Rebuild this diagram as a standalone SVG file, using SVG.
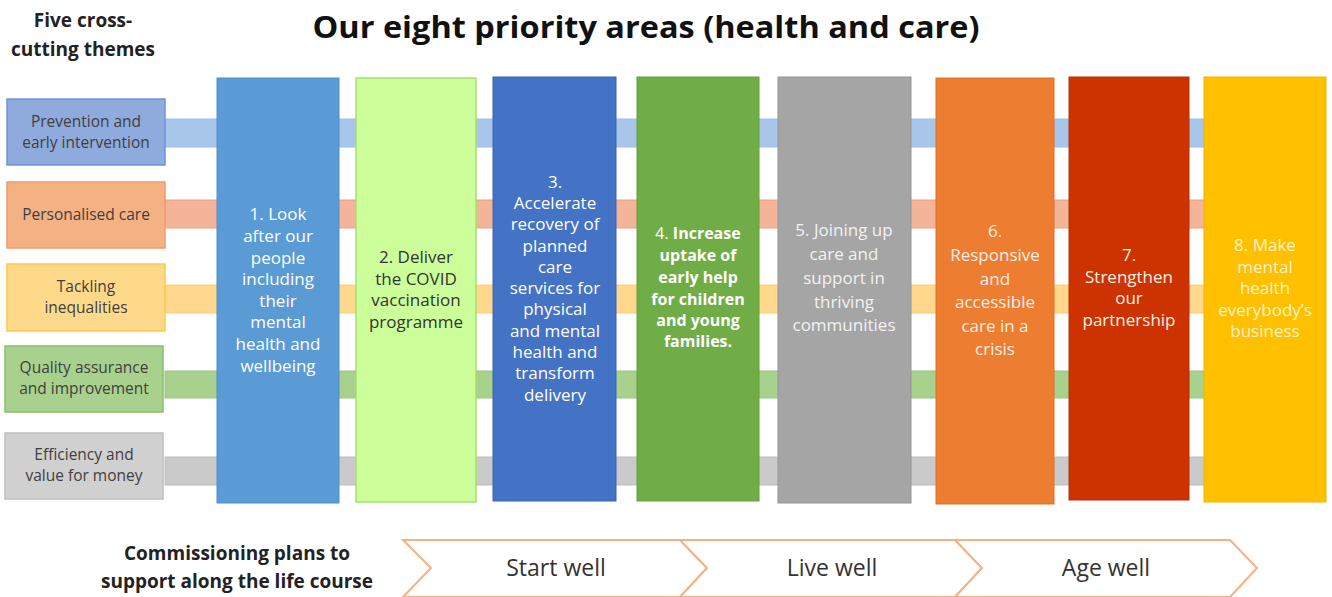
<svg xmlns="http://www.w3.org/2000/svg" width="1332" height="597" viewBox="0 0 1332 597">
<style>
text{font-family:"Open Sans",Lato,"Liberation Sans",sans-serif;text-anchor:middle}
.h{font-weight:bold;font-size:19px;fill:#222}
.title{font-weight:bold;font-size:31px;fill:#111}
.th{font-size:15.5px;fill:#404040}
.col{font-size:17px;fill:#fff}
.life{font-size:23px;fill:#333}
.band{stroke-width:1}
.chev{fill:#fff;stroke:#F4B183;stroke-width:2}
</style>
<rect width="1332" height="597" fill="#fff"/>
<text class="h" x="83" y="27">Five cross-</text>
<text class="h" x="83" y="56">cutting themes</text>
<text class="title" x="646" y="38" textLength="667" lengthAdjust="spacingAndGlyphs">Our eight priority areas (health and care)</text>
<g id="connectors">
<rect class="band" x="165" y="119" width="1040" height="28" fill="#A8C6E9" stroke="#9DBFE6"/>
<rect class="band" x="165" y="200" width="1040" height="28" fill="#F4B49A" stroke="#F0A080"/>
<rect class="band" x="165" y="285" width="1040" height="28" fill="#FFD88E" stroke="#FFCC70"/>
<rect class="band" x="165" y="371" width="1040" height="27" fill="#A9D18E" stroke="#98C67C"/>
<rect class="band" x="165" y="457" width="1040" height="28" fill="#CACACA" stroke="#BDBDBD"/>
</g>
<g id="theme1"><rect x="7" y="99" width="158" height="66" fill="#8FAADC" stroke="#6F94DA" stroke-width="1.5"/><text class="th" x="86" y="127">Prevention and</text><text class="th" x="86" y="148">early intervention</text></g>
<g id="theme2"><rect x="7" y="182" width="158" height="66" fill="#F4B183" stroke="#F59A6E" stroke-width="1.5"/><text class="th" x="86" y="220">Personalised care</text></g>
<g id="theme3"><rect x="7" y="264" width="158" height="67" fill="#FFD98A" stroke="#FFC84A" stroke-width="1.5"/><text class="th" x="86" y="292">Tackling</text><text class="th" x="86" y="313">inequalities</text></g>
<g id="theme4"><rect x="5" y="346" width="158" height="66" fill="#A9D18E" stroke="#86C06A" stroke-width="1.5"/><text class="th" x="84" y="373">Quality assurance</text><text class="th" x="84" y="394">and improvement</text></g>
<g id="theme5"><rect x="5" y="433" width="158" height="66" fill="#D0D0D0" stroke="#BFBFBF" stroke-width="1.5"/><text class="th" x="84" y="460">Efficiency and</text><text class="th" x="84" y="481">value for money</text></g>

<g id="p1"><rect x="217" y="78" width="122" height="425" fill="#5B9BD5" stroke="#4F8ECB"/>
<text class="col" x="278"><tspan x="278" y="220">1. Look</tspan><tspan x="278" y="242">after our</tspan><tspan x="278" y="264">people</tspan><tspan x="278" y="285">including</tspan><tspan x="278" y="307">their</tspan><tspan x="278" y="328">mental</tspan><tspan x="278" y="350">health and</tspan><tspan x="278" y="372">wellbeing</tspan></text></g>
<g id="p2"><rect x="356" y="78" width="120" height="424" fill="#CCFF99" stroke="#A6E070" stroke-width="1.5"/>
<text class="col" style="fill:#333"><tspan x="416" y="263">2. Deliver</tspan><tspan x="416" y="285">the COVID</tspan><tspan x="416" y="306">vaccination</tspan><tspan x="416" y="328">programme</tspan></text></g>
<g id="p3"><rect x="493" y="77" width="123" height="424" fill="#4472C4" stroke="#3A65B5"/>
<text class="col"><tspan x="555" y="188">3.</tspan><tspan x="555" y="209">Accelerate</tspan><tspan x="555" y="230">recovery of</tspan><tspan x="555" y="252">planned</tspan><tspan x="555" y="273">care</tspan><tspan x="555" y="294">services for</tspan><tspan x="555" y="315">physical</tspan><tspan x="555" y="337">and mental</tspan><tspan x="555" y="358">health and</tspan><tspan x="555" y="379">transform</tspan><tspan x="555" y="401">delivery</tspan></text></g>
<g id="p4"><rect x="637" y="77" width="122" height="424" fill="#70AD47" stroke="#63A03C"/>
<text class="col" style="font-weight:bold;font-size:16px"><tspan x="698" y="239"><tspan style="font-weight:normal">4. </tspan>Increase</tspan><tspan x="698" y="261">uptake of</tspan><tspan x="698" y="283">early help</tspan><tspan x="698" y="305">for children</tspan><tspan x="698" y="326">and young</tspan><tspan x="698" y="347">families.</tspan></text></g>
<g id="p5"><rect x="778" y="77" width="133" height="426" fill="#A5A5A5" stroke="#959595"/>
<text class="col" style="fill:#F2F2F2"><tspan x="844" y="236">5. Joining up</tspan><tspan x="844" y="260">care and</tspan><tspan x="844" y="284">support in</tspan><tspan x="844" y="308">thriving</tspan><tspan x="844" y="331">communities</tspan></text></g>
<g id="p6"><rect x="936" y="78" width="118" height="426" fill="#ED7D31" stroke="#E07028"/>
<text class="col" style="fill:#FDEFE6"><tspan x="995" y="237">6.</tspan><tspan x="995" y="261">Responsive</tspan><tspan x="995" y="285">and</tspan><tspan x="995" y="308">accessible</tspan><tspan x="995" y="332">care in a</tspan><tspan x="995" y="355">crisis</tspan></text></g>
<g id="p7"><rect x="1069" y="77" width="120" height="423" fill="#CC3300" stroke="#BB2E00"/>
<text class="col" style="fill:#FFF0E0"><tspan x="1129" y="261">7.</tspan><tspan x="1129" y="283">Strengthen</tspan><tspan x="1129" y="304">our</tspan><tspan x="1129" y="326">partnership</tspan></text></g>
<g id="p8"><rect x="1204" y="77" width="122" height="425" fill="#FFC000" stroke="#F0B400"/>
<text class="col" style="fill:#FFF2CC"><tspan x="1265" y="251">8. Make</tspan><tspan x="1265" y="273">mental</tspan><tspan x="1265" y="294">health</tspan><tspan x="1265" y="316">everybody’s</tspan><tspan x="1265" y="337">business</tspan></text></g>

<text class="h" x="237" y="560">Commissioning plans to</text>
<text class="h" x="237" y="588">support along the life course</text>
<g id="startwell"><polygon class="chev" points="403,540 680,540 707,568 680,597 403,597 431,568"/><text class="life" x="556" y="576">Start well</text></g>
<g id="livewell"><polygon class="chev" points="680,540 955,540 982,568 955,597 680,597 707,568"/><text class="life" x="832" y="576">Live well</text></g>
<g id="agewell"><polygon class="chev" points="955,540 1230,540 1257,568 1230,597 955,597 982,568"/><text class="life" x="1106" y="576">Age well</text></g>
</svg>
